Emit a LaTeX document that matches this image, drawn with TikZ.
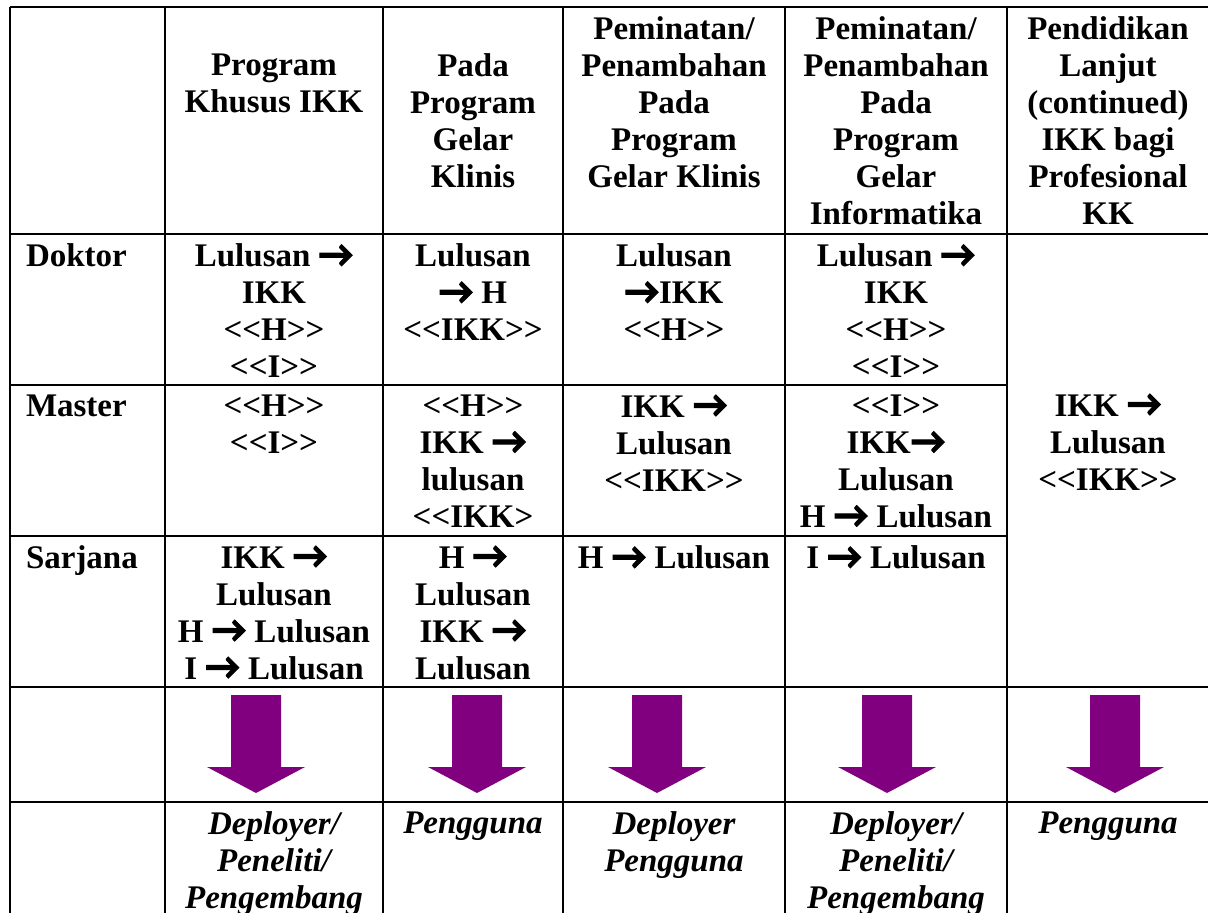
\documentclass[tikz,border=0pt]{standalone}
\usepackage{fontspec}
\setmainfont{Liberation Serif}
\newfontfamily\arrowfont{Carlito}[BoldFeatures={FakeBold=2.5}]
\newcommand{\rarr}{{\arrowfont\bfseries\fontsize{19}{18.5}\selectfont →}}
\definecolor{arrowpurple}{RGB}{128,0,128}

\begin{document}
\begin{tikzpicture}[x=0.5pt,y=-0.5pt,line width=1pt]

        \useasboundingbox (0,0) rectangle (1208,913);
        \clip (0,0) rectangle (1208,913);

        \foreach \ly in {7,234,687,802}
          \draw (10,\ly) -- (1230,\ly);
        \foreach \ly in {385,536}
          \draw (10,\ly) -- (1007,\ly);
        \foreach \lx in {10,165,383,563,785,1007}
          \draw (\lx,7) -- (\lx,930);

        \begin{scope}[every node/.style={font=\bfseries\fontsize{16.5}{18.5}\selectfont,
                                         align=center,anchor=north,inner sep=0pt}]
          \node (h1) at (274,53)  {Program\\Khusus IKK};
          \node (h2) at (473,53)  {Pada\\Program\\Gelar\\Klinis};
          \node (h3) at (674,16)  {Peminatan/\\Penambahan\\Pada\\Program\\Gelar Klinis};
          \node (h4) at (896,16)  {Peminatan/\\Penambahan\\Pada\\Program\\Gelar\\Informatika};
          \node (h5) at (1108,16) {Pendidikan\\Lanjut\\(continued)\\IKK bagi\\Profesional\\KK};

          \node[anchor=north west] (doktor)  at (25,243) {Doktor};
          \node[anchor=north west] (master)  at (25,394) {Master};
          \node[anchor=north west] (sarjana) at (25,545) {Sarjana};

          \node (d1) at (274,243) {Lulusan \rarr\\IKK\\<{}<H>{}>\\<{}<I>{}>};
          \node (d2) at (473,243) {Lulusan\\\rarr{} H\\<{}<IKK>{}>};
          \node (d3) at (674,243) {Lulusan\\\rarr IKK\\<{}<H>{}>};
          \node (d4) at (896,243) {Lulusan \rarr\\IKK\\<{}<H>{}>\\<{}<I>{}>};

          \node (m1) at (274,394) {<{}<H>{}>\\<{}<I>{}>};
          \node (m2) at (473,394) {<{}<H>{}>\\IKK \rarr\\lulusan\\<{}<IKK>};
          \node (m3) at (674,394) {IKK \rarr\\Lulusan\\<{}<IKK>{}>};
          \node (m4) at (896,394) {<{}<I>{}>\\IKK\rarr\\Lulusan\\H \rarr{} Lulusan};

          \node (s1) at (274,545) {IKK \rarr\\Lulusan\\H \rarr{} Lulusan\\I \rarr{} Lulusan};
          \node (s2) at (473,545) {H \rarr\\Lulusan\\IKK \rarr\\Lulusan};
          \node (s3) at (674,545) {H \rarr{} Lulusan};
          \node (s4) at (896,545) {I \rarr{} Lulusan};

          \node (c5) at (1108,393) {IKK \rarr\\Lulusan\\<{}<IKK>{}>};
        \end{scope}

        \foreach \ax in {256,477,657,887,1115}
          \fill[arrowpurple] (\ax-25,695) -- (\ax+25,695) -- (\ax+25,767) -- (\ax+49,767)
            -- (\ax,793) -- (\ax-49,767) -- (\ax-25,767) -- cycle;

        \begin{scope}[every node/.style={font=\bfseries\itshape\fontsize{16.5}{18.5}\selectfont,
                                         align=center,anchor=north,inner sep=0pt}]
          \node (u1) at (274,811)  {Deployer/\\Peneliti/\\Pengembang};
          \node (u2) at (473,811)  {Pengguna};
          \node (u3) at (674,811)  {Deployer\\Pengguna};
          \node (u4) at (896,811)  {Deployer/\\Peneliti/\\Pengembang};
          \node (u5) at (1108,811) {Pengguna};
        \end{scope}

      \end{tikzpicture}
\end{document}
